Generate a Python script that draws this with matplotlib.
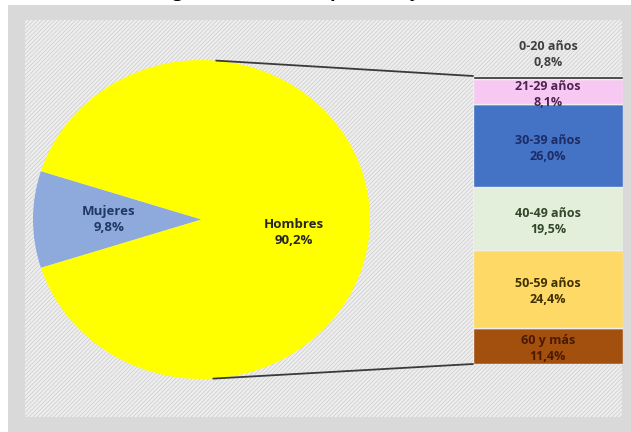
"""
Bar-of-pie chart: split by sex, with the men's share broken down by age group.
"""
import numpy as np
import matplotlib
matplotlib.use("Agg")
import matplotlib.pyplot as plt
from matplotlib.patches import Rectangle, ConnectionPatch

# Data
sex_labels = ["Mujeres", "Hombres"]
sex_pct = [9.8, 90.2]
sex_colors = ["#8eaadc", "#ffff00"]
sex_text_colors = ["#1f3864", "#262626"]

age_labels = ["0-20 años", "21-29 años", "30-39 años", "40-49 años", "50-59 años", "60 y más"]
age_pct = [0.8, 8.1, 26.0, 19.5, 24.4, 11.4]
age_colors = ["#2b2b2b", "#f7c8f1", "#4472c4", "#e3eedb", "#ffd966", "#a3500f"]
age_text_colors = ["#404040", "#4f2350", "#1c2c66", "#33472a", "#3f3000", "#4a1a00"]

title = "Investigadores doctores por sexo y edad"

W, H = 631, 432
plt.rcParams["font.family"] = ["Open Sans", "DejaVu Sans"]
plt.rcParams["hatch.linewidth"] = 0.6


def fig_box(x0, y0, x1, y1):
    """Pixel box (top-left origin) -> figure fraction [left, bottom, w, h]."""
    return [x0 / W, (H - y1) / H, (x1 - x0) / W, (y1 - y0) / H]


def pct_text(label, value):
    return f"{label}\n{value:.1f}%".replace(".", ",")


fig = plt.figure(figsize=(W / 100, H / 100), dpi=100)

# Background panels
ax_bg = fig.add_axes([0, 0, 1, 1])
ax_bg.set_xlim(0, W)
ax_bg.set_ylim(H, 0)
ax_bg.axis("off")
ax_bg.add_patch(Rectangle((8, 5), W - 8, H - 5, facecolor="#d9d9d9", edgecolor="none"))
ax_bg.add_patch(Rectangle((25, 20), 597, 397, facecolor="#eeeeee",
                          edgecolor="#d0d0d0", hatch="////////", linewidth=0))

# Title, cut off by the top edge of the image (as in the original)
fig.text(0.46, 1.006, title, ha="center", va="baseline", fontsize=13,
         fontweight="bold", color="black")

# Pie (slightly wider than tall, as in the original)
ax_pie = fig.add_axes(fig_box(33, 60, 370, 379))
half = sex_pct[0] / 100 * 360 / 2
wedges, _ = ax_pie.pie(sex_pct, colors=sex_colors, startangle=180 - half,
                       radius=1, center=(0, 0),
                       wedgeprops=dict(edgecolor="none"))
ax_pie.set_aspect("auto")
ax_pie.set_xlim(-1, 1)
ax_pie.set_ylim(-1, 1)
ax_pie.axis("off")

for w, lab, val, tc, dy in zip(wedges, sex_labels, sex_pct, sex_text_colors, [0, -0.08]):
    mid = np.deg2rad((w.theta1 + w.theta2) / 2)
    ax_pie.text(0.55 * np.cos(mid), 0.55 * np.sin(mid) + dy, pct_text(lab, val),
                ha="center", va="center", fontsize=9.5, fontweight="bold",
                color=tc, linespacing=1.3)

# Stacked bar for the age breakdown
total = sum(age_pct)
ax_bar = fig.add_axes(fig_box(473, 76, 623, 364))
ax_bar.set_xlim(0, 1)
ax_bar.set_ylim(0, total)
ax_bar.axis("off")

bottom = 0.0
bottoms = {}
for lab, val, col in reversed(list(zip(age_labels, age_pct, age_colors))):
    ax_bar.bar(0.5, val, width=1.0, bottom=bottom, color=col,
               edgecolor="#eeeeee", linewidth=1.0)
    bottoms[lab] = bottom
    bottom += val

for i, (lab, val, tc) in enumerate(zip(age_labels, age_pct, age_text_colors)):
    if i == 0:
        ax_bar.annotate(pct_text(lab, val), (0.5, total), xytext=(0, 5),
                        textcoords="offset points", ha="center", va="bottom",
                        fontsize=9, fontweight="bold", color=tc, linespacing=1.3,
                        annotation_clip=False)
    else:
        ax_bar.annotate(pct_text(lab, val), (0.5, bottoms[lab] + val / 2),
                        xytext=(0, -2), textcoords="offset points",
                        ha="center", va="center", fontsize=9, fontweight="bold",
                        color=tc, linespacing=1.3, annotation_clip=False)

# Connector lines from the pie to the bar
for ang, ybar in [(85, total), (-86, 0)]:
    t = np.deg2rad(ang)
    con = ConnectionPatch(xyA=(np.cos(t), np.sin(t)), coordsA=ax_pie.transData,
                          xyB=(0, ybar), coordsB=ax_bar.transData,
                          color="#3a3a3a", linewidth=1.3)
    fig.add_artist(con)

fig.savefig("out.png", dpi=100)
